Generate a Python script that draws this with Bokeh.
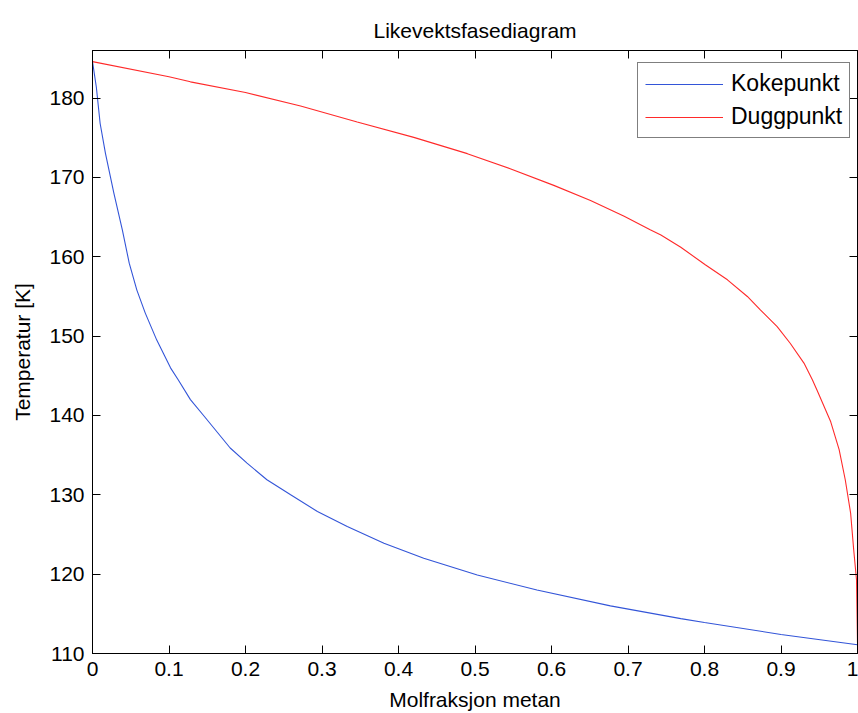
from bokeh.plotting import figure
from bokeh.models import Range1d, FixedTicker, LinearAxis, Legend, LegendItem
from bokeh.embed import file_html
from bokeh.resources import INLINE

# Bubble point curve (Kokepunkt): mole fraction methane vs temperature [K]
koke_x = [0.0, 0.005, 0.010, 0.017, 0.028, 0.039, 0.048, 0.058, 0.069, 0.084,
          0.102, 0.112, 0.128, 0.146, 0.180, 0.202, 0.228, 0.259, 0.294, 0.333,
          0.381, 0.433, 0.503, 0.581, 0.677, 0.769, 0.800, 0.900, 1.000]
koke_T = [184.6, 181.4, 176.8, 173.0, 168.0, 163.4, 159.2, 155.8, 152.9, 149.5,
          146.0, 144.5, 142.0, 139.9, 135.9, 134.0, 131.9, 130.0, 127.9, 126.0,
          123.9, 122.0, 119.9, 118.0, 116.0, 114.4, 113.9, 112.4, 111.1]

# Dew point curve (Duggpunkt)
dugg_x = [0.0, 0.100, 0.128, 0.200, 0.272, 0.346, 0.420, 0.490, 0.546, 0.603,
          0.651, 0.695, 0.729, 0.743, 0.769, 0.801, 0.830, 0.856, 0.873, 0.895,
          0.912, 0.930, 0.941, 0.947, 0.965, 0.976, 0.984, 0.991, 0.995, 0.9987,
          1.000]
dugg_T = [184.6, 182.7, 182.05, 180.7, 179.0, 177.0, 175.05, 173.0, 171.1, 169.0,
          167.1, 165.1, 163.4, 162.75, 161.2, 159.0, 157.1, 155.0, 153.3, 151.2,
          149.1, 146.6, 144.5, 143.2, 139.2, 135.7, 131.9, 127.7, 123.1, 119.3,
          111.4]

x_ticks = [0.0, 0.1, 0.2, 0.3, 0.4, 0.5, 0.6, 0.7, 0.8, 0.9, 1.0]
x_tick_labels = ["0", "0.1", "0.2", "0.3", "0.4", "0.5", "0.6", "0.7", "0.8", "0.9", "1"]
y_ticks = [110, 120, 130, 140, 150, 160, 170, 180]
y_tick_labels = ["110", "120", "130", "140", "150", "160", "170", "180"]

FONT = "Liberation Sans"
TICK_SIZE = "21px"

p = figure(width=858, height=713, output_backend="svg", toolbar_location=None,
           x_range=Range1d(0, 1), y_range=Range1d(110, 186),
           min_border_left=92, min_border_right=1, min_border_top=50,
           min_border_bottom=59, background_fill_color="white",
           border_fill_color="white")

p.title.text = "Likevektsfasediagram"
p.title.align = "center"
p.title.text_font = FONT
p.title.text_font_size = "21px"
p.title.text_font_style = "normal"
p.title.text_color = "black"
p.title.standoff = 18

p.grid.visible = False
p.outline_line_color = "black"
p.outline_line_width = 1

def style_axis(ax, ticks, labels, show_labels=True):
    ax.ticker = FixedTicker(ticks=ticks)
    ax.major_label_overrides = {t: l for t, l in zip(ticks, labels)}
    ax.major_tick_in = 8
    ax.major_tick_out = 0
    ax.minor_tick_in = 0
    ax.minor_tick_out = 0
    ax.axis_line_color = "black"
    ax.major_tick_line_color = "black"
    ax.major_label_text_font = FONT
    if show_labels:
        ax.major_label_text_color = "black"
        ax.major_label_text_font_size = TICK_SIZE
    else:
        # tick marks only on the box edges
        ax.major_label_text_color = None
        ax.major_label_text_font_size = "1px"
        ax.major_label_standoff = 0

xa = p.xaxis[0]
ya = p.yaxis[0]
style_axis(xa, x_ticks, x_tick_labels)
style_axis(ya, y_ticks, y_tick_labels)
xa.major_label_standoff = 8
ya.major_label_standoff = 8

xa.axis_label = "Molfraksjon metan"
ya.axis_label = "Temperatur [K]"
for ax in (xa, ya):
    ax.axis_label_text_font = FONT
    ax.axis_label_text_font_size = "21px"
    ax.axis_label_text_font_style = "normal"
    ax.axis_label_text_color = "black"
xa.axis_label_standoff = 9
ya.axis_label_standoff = 12

# Box ticks on the top and right edges
top_ax = LinearAxis()
style_axis(top_ax, x_ticks, x_tick_labels, show_labels=False)
p.add_layout(top_ax, "above")
right_ax = LinearAxis()
style_axis(right_ax, y_ticks, y_tick_labels, show_labels=False)
p.add_layout(right_ax, "right")

r_koke = p.line(koke_x, koke_T, line_color="#3355d8", line_width=1.1)
r_dugg = p.line(dugg_x, dugg_T, line_color="#ff2a2a", line_width=1.1)

legend = Legend(items=[LegendItem(label="Kokepunkt", renderers=[r_koke]),
                       LegendItem(label="Duggpunkt", renderers=[r_dugg])],
                location=(545, 515))
legend.label_text_font = FONT
legend.label_text_font_size = "23px"
legend.label_text_color = "black"
legend.label_height = 20
legend.glyph_height = 20
legend.glyph_width = 78
legend.label_standoff = 8
legend.padding = 7
legend.spacing = 6
legend.margin = 0
legend.border_line_color = "black"
legend.border_line_width = 1
legend.background_fill_color = "white"
legend.background_fill_alpha = 1
p.add_layout(legend)

open("out.html", "w").write(file_html(p, INLINE))
